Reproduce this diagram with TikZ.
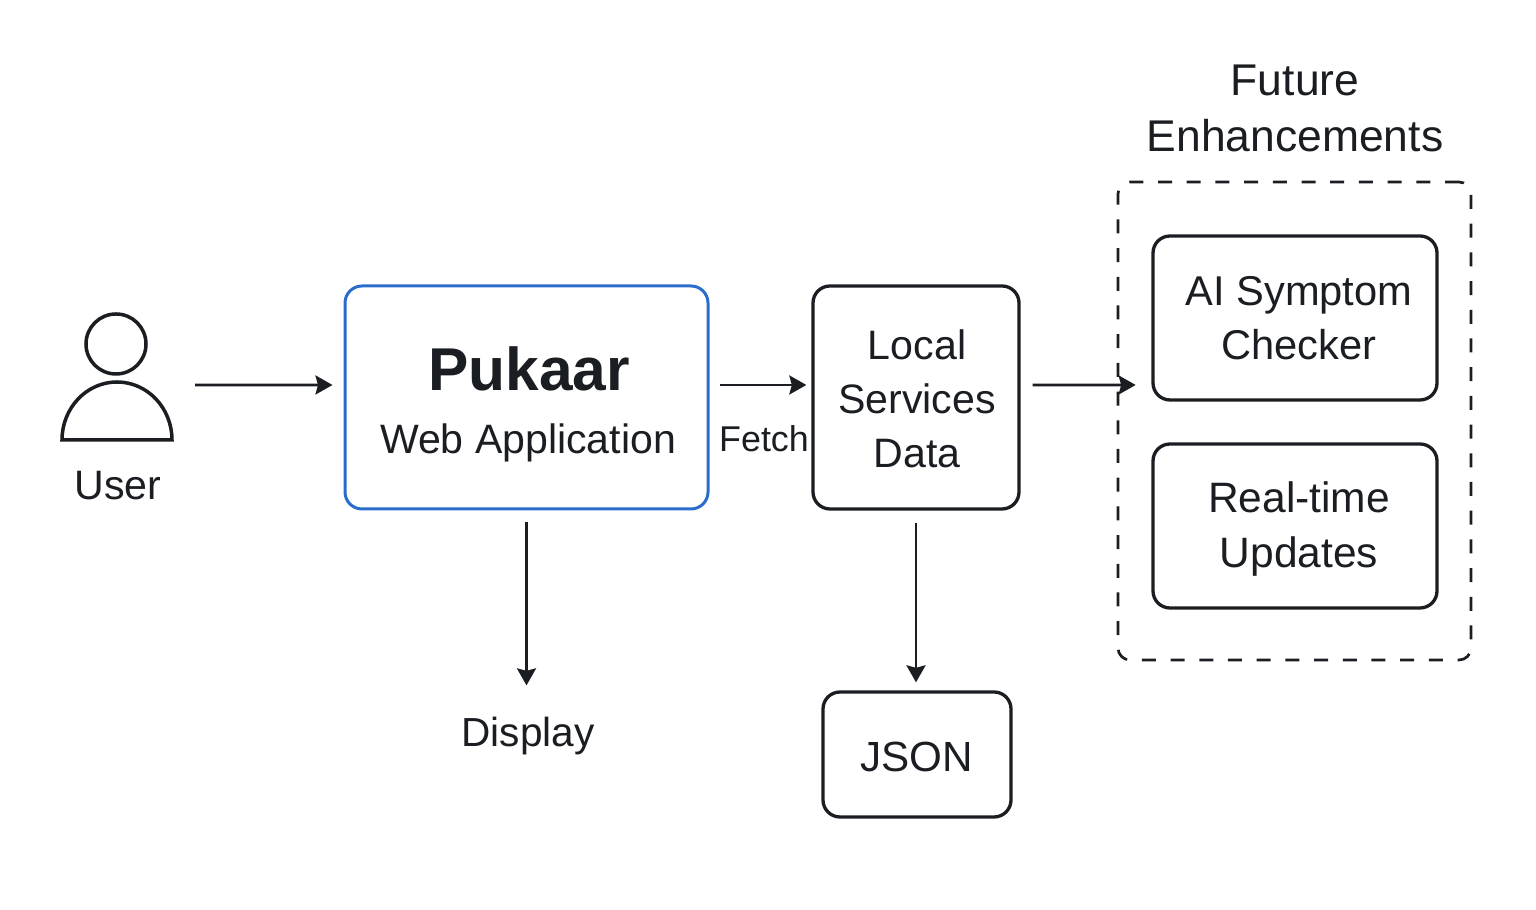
\documentclass[tikz,border=0pt]{standalone}
\usepackage{fontspec}
\setmainfont{Liberation Sans}
\usetikzlibrary{arrows.meta}
\definecolor{inkdark}{HTML}{1A1D21}
\definecolor{appblue}{HTML}{2A6CCB}
\tikzset{
	box/.style={draw=inkdark, line width=0.033cm, rounded corners=0.17cm, inner sep=0pt},
	label/.style={align=center, inner sep=0pt, text=inkdark, font=\fontsize{11.7}{15.4}\selectfont},
	flow/.style={draw=inkdark, line width=0.027cm, -{Stealth[length=0.17cm, width=0.19cm, inset=0.025cm]}},
}
\begin{document}
\begin{tikzpicture}[]
	\useasboundingbox (0,0) rectangle (15.36,9.10);
	%user figure
	\node (userhead) [circle, draw=inkdark, line width=0.035cm, minimum size=0.6cm, inner sep=0pt] at (1.16,5.66) {};
	\draw[inkdark, line width=0.035cm] (0.62,4.70) arc [start angle=180, end angle=0, x radius=0.55, y radius=0.58] -- cycle;
	\coordinate (userout) at (1.95,5.25);
	\node (user) [label] at (1.18,4.24) {User};
	%main boxes
	\node (pukaar) [box, draw=appblue, line width=0.03cm, minimum width=3.63cm, minimum height=2.23cm] at (5.265,5.125) {};
	\node (pukaartitle) [label, font=\fontsize{17.2}{20}\bfseries] at (5.29,5.41) {Pukaar};
	\node (pukaarsub) [label, font=\fontsize{11.68}{15.4}\selectfont] at (5.28,4.67) {Web Application};
	\node (local) [box, minimum width=2.06cm, minimum height=2.23cm] at (9.16,5.125) {};
	\node (localtext) [label] at (9.17,5.11) {Local\\Services\\Data};
	\node (fetch) [label, font=\fontsize{10.2}{12}\selectfont] at (7.64,4.71) {Fetch};
	\node (display) [label, font=\fontsize{11.55}{15}\selectfont] at (5.28,1.74) {Display};
	\node (json) [box, minimum width=1.88cm, minimum height=1.25cm] at (9.17,1.555) {};
	\node (jsontext) [label, font=\fontsize{12}{15}\selectfont] at (9.17,1.53) {JSON};
	%future group
	\node (future) [draw=inkdark, line width=0.027cm, dash pattern=on 0.14cm off 0.147cm, rounded corners=0.12cm, minimum width=3.53cm, minimum height=4.78cm, inner sep=0pt] at (12.945,4.89) {};
	\node (futuretitle) [label, font=\fontsize{12.65}{15.9}\selectfont] at (12.95,8.02) {Future\\Enhancements};
	\node (symptom) [box, minimum width=2.84cm, minimum height=1.64cm] at (12.95,5.92) {};
	\node (symptomtext) [label, font=\fontsize{11.85}{15.4}\selectfont] at (12.99,5.92) {AI Symptom\\Checker};
	\node (realtime) [box, minimum width=2.84cm, minimum height=1.64cm] at (12.95,3.84) {};
	\node (realtimetext) [label, font=\fontsize{12.1}{15.4}\selectfont] at (12.99,3.81) {Real-time\\Updates};
	%connectors
	\draw[flow, shorten >=0.11cm] (userout) -- ([yshift=0.125cm]pukaar.west);
	\draw[flow, shorten <=0.10cm, shorten >=0.05cm] ([yshift=0.125cm]pukaar.east) -- ([yshift=0.125cm]local.west);
	\draw[flow, shorten <=0.12cm, shorten >=-0.19cm] ([yshift=0.125cm]local.east) -- (future.west |- userout);
	\draw[flow, shorten <=0.12cm, shorten >=0.31cm] (pukaar.south) -- (pukaar.south |- display.north);
	\draw[flow, shorten <=0.12cm, shorten >=0.08cm] (local.south) -- (local.south |- json.north);
\end{tikzpicture}
\end{document}
